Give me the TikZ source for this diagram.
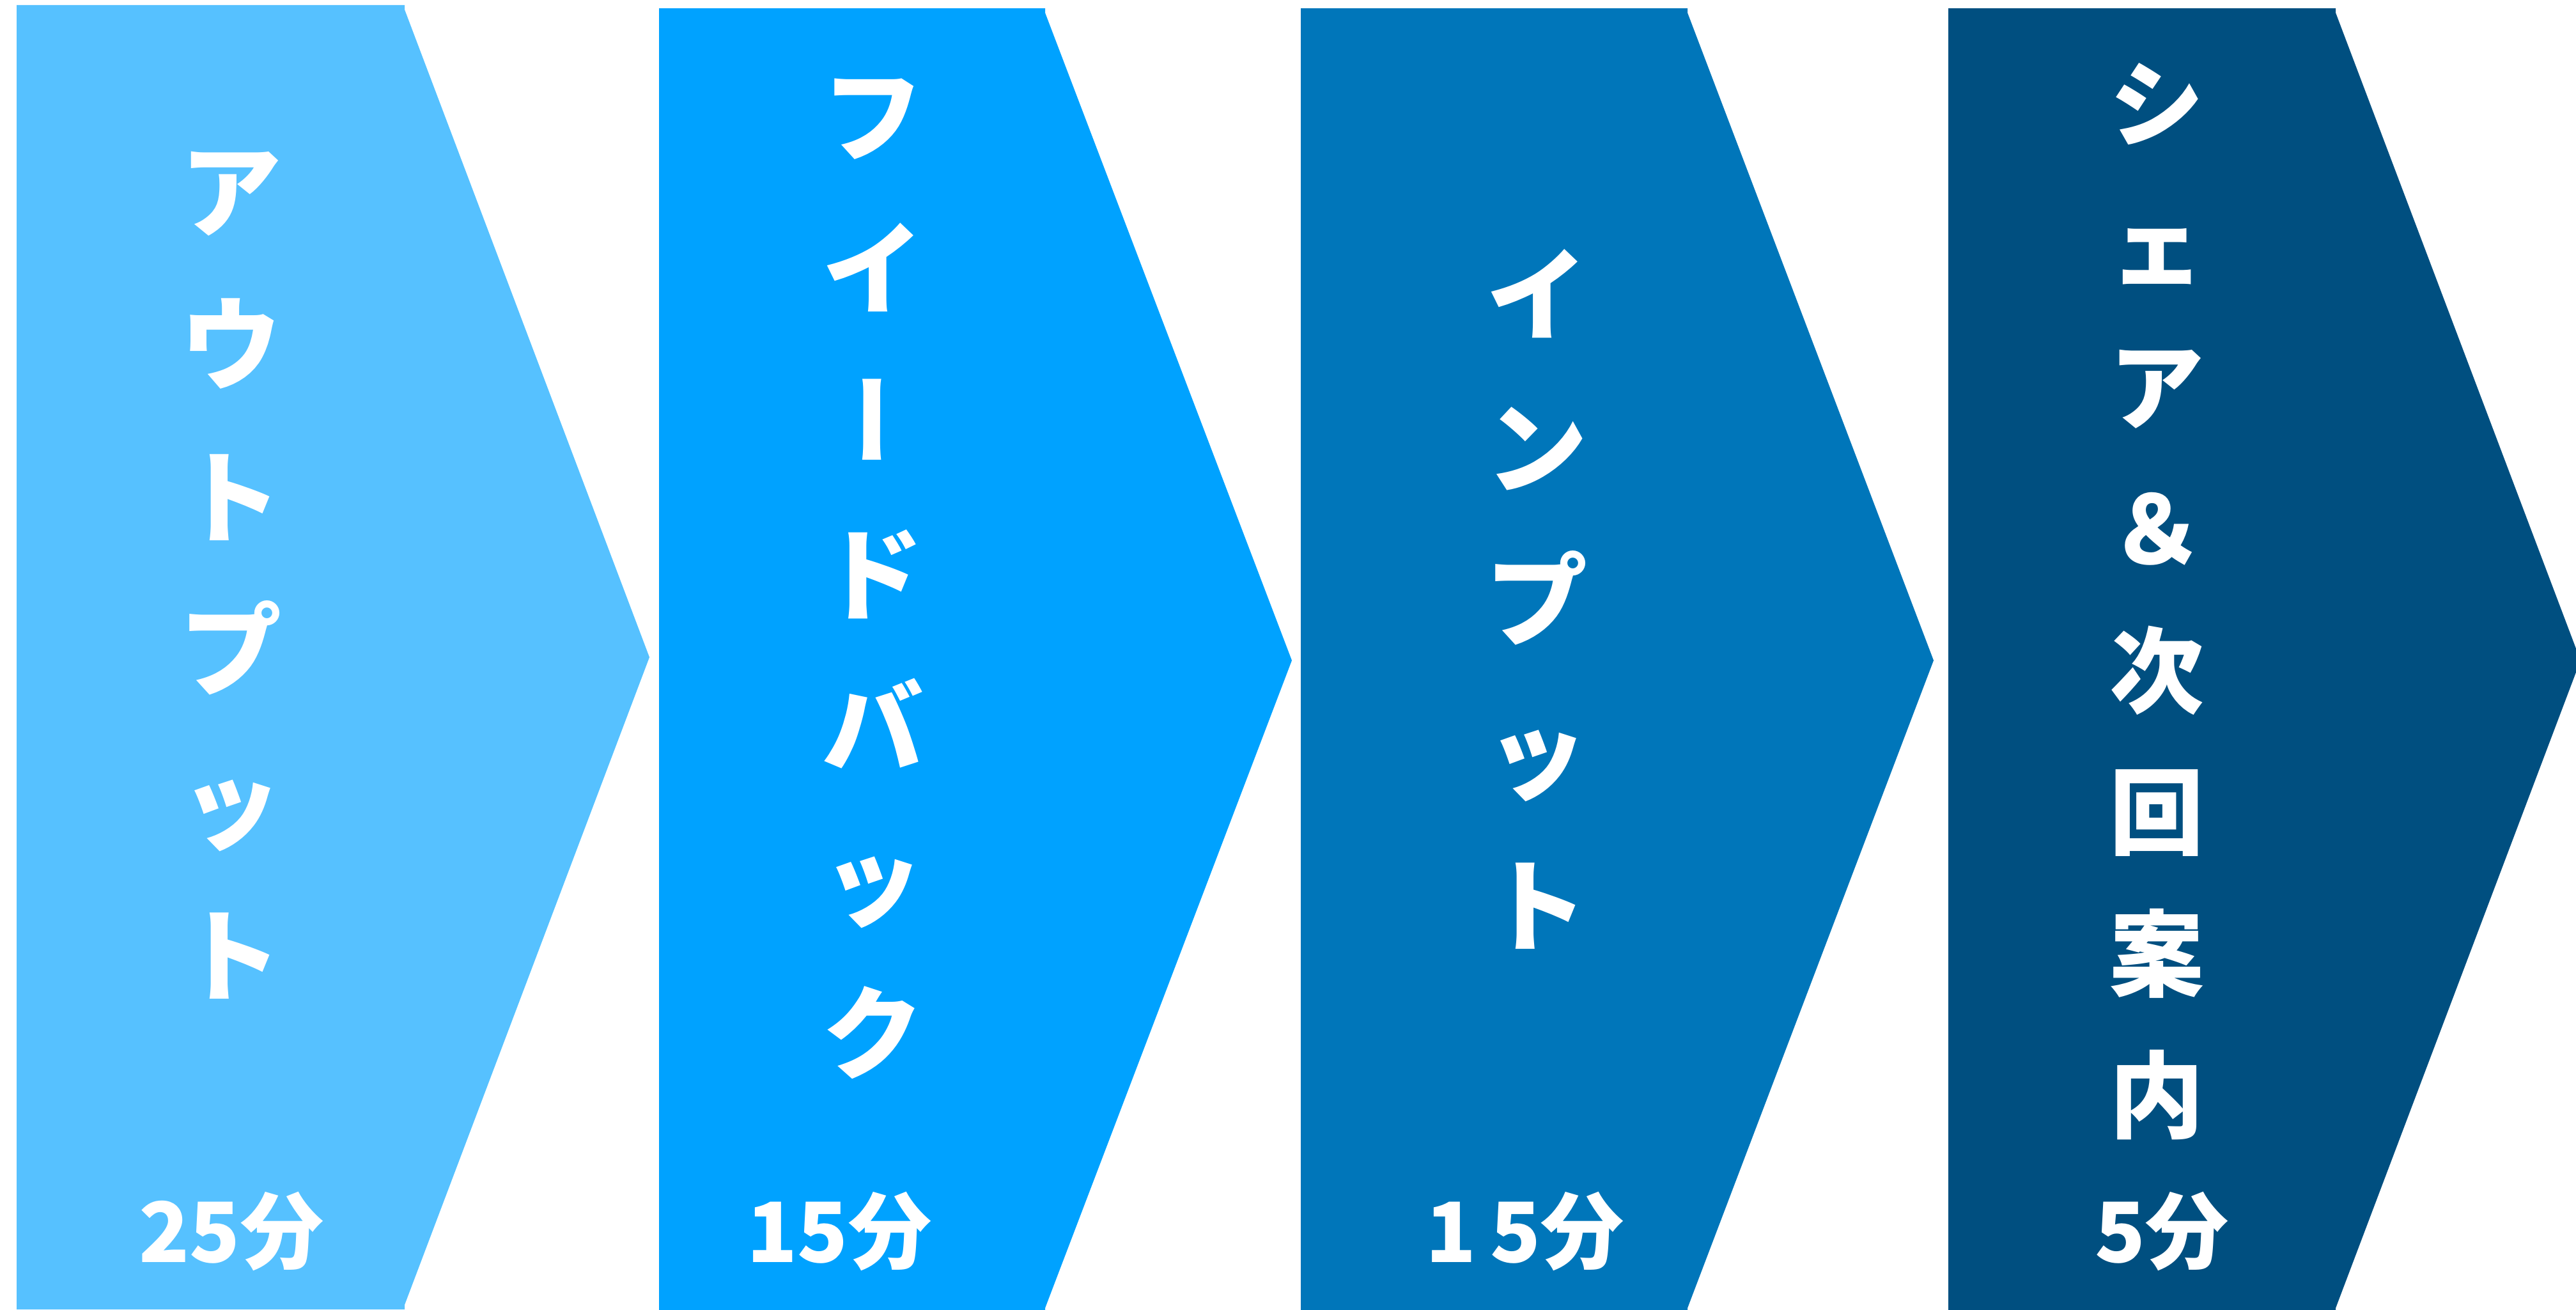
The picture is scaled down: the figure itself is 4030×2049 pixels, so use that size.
\documentclass[tikz,border=0pt]{standalone}
\usepackage{fontspec}
\setmainfont{Noto Sans CJK JP}
\usepackage{tikz}

\definecolor{stepOne}{HTML}{56C1FF}
\definecolor{stepTwo}{HTML}{00A2FF}
\definecolor{stepThree}{HTML}{0076BA}
\definecolor{stepFour}{HTML}{004F80}
\newcommand{\tateBar}{{\addfontfeature{RawFeature=+vert}ー}}

\begin{document}
\begin{tikzpicture}[x=0.01cm, y=-0.01cm,
      stepText/.style={text=white, inner sep=0pt, align=center,
         font=\bfseries\fontsize{45}{68}\selectfont},
      stepTime/.style={text=white, inner sep=0pt, anchor=base,
         font=\bfseries\fontsize{37}{40}\selectfont}]
         \useasboundingbox (0,0) rectangle (4030,2049);
         \clip (0,0) rectangle (4030,2049);

         % chevrons
         \fill[stepOne] (26,8) -- (633,8) -- (633,15) -- (1016,1028)
            -- (633,2041) -- (633,2048) -- (26,2048) -- cycle;
         \fill[stepTwo] (1031,13) -- (1635,13) -- (1635,20) -- (2021,1033)
            -- (1635,2046) -- (1635,2053) -- (1031,2053) -- cycle;
         \fill[stepThree] (2035,13) -- (2640,13) -- (2640,20) -- (3025,1033)
            -- (2640,2046) -- (2640,2053) -- (2035,2053) -- cycle;
         \fill[stepFour] (3048,13) -- (3654,13) -- (3654,20) -- (4037,1033)
            -- (3654,2046) -- (3654,2053) -- (3048,2053) -- cycle;

         % vertical titles
         \node[stepText] (output) at (362,900) {ア\\ウ\\ト\\プ\\ッ\\ト};
         \node[stepText] (feedback) at (1366,905) {フ\\イ\\\tateBar\\ド\\バ\\ッ\\ク};
         \node[stepText] (input) at (2405,937) {イ\\ン\\プ\\ッ\\ト};
         \node[stepText, font=\bfseries\fontsize{42}{63}\selectfont] (share) at (3374,941)
            {シ\\ェ\\ア\\＆\\次\\回\\案\\内};

         % minutes
         \node[stepTime] (outputTime) at (362,1974) {25分};
         \node[stepTime] (feedbackTime) at (1313,1974) {15分};
         \node[stepTime] (inputTime) at (2386,1974) {1\,5分};
         \node[stepTime] (shareTime) at (3382,1974) {5分};
      \end{tikzpicture}
\end{document}
